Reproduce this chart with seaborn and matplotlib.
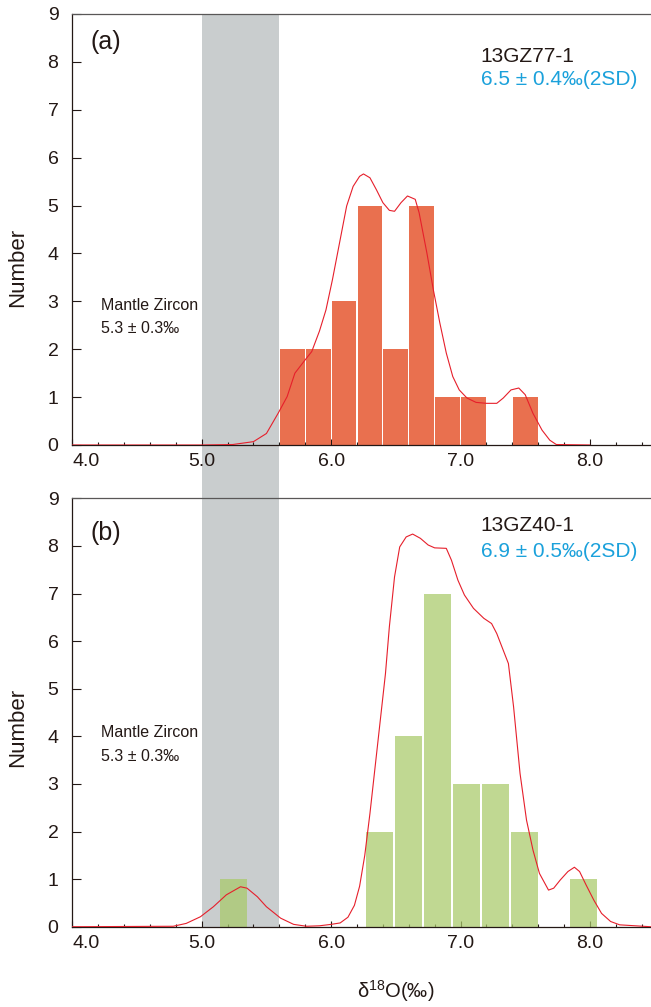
import numpy as np
import pandas as pd
import matplotlib
matplotlib.use('Agg')
import matplotlib.pyplot as plt
from matplotlib.ticker import MultipleLocator
import seaborn as sns

# -- (a) 13GZ77-1 : histogram (bin centres / counts) --
a_centers = [5.7, 5.9, 6.1, 6.3, 6.5, 6.7, 6.9, 7.1, 7.5]
a_counts = [2, 2, 3, 5, 2, 5, 1, 1, 1]

# -- (a) density curve --
a_curve_x = [4.0, 5.0, 5.24, 5.40, 5.50, 5.59, 5.66, 5.72, 5.80, 5.85, 5.91, 5.96,
             6.01, 6.07, 6.12, 6.17, 6.22, 6.25, 6.30, 6.35, 6.40, 6.45, 6.49, 6.54,
             6.59, 6.65, 6.68, 6.74, 6.79, 6.84, 6.89, 6.94, 6.99, 7.05, 7.12, 7.20,
             7.28, 7.33, 7.39, 7.45, 7.50, 7.56, 7.63, 7.69, 7.74, 8.0]
a_curve_y = [0, 0, 0.01, 0.07, 0.24, 0.66, 1.01, 1.50, 1.78, 1.95, 2.38, 2.82,
             3.45, 4.29, 4.99, 5.40, 5.61, 5.66, 5.58, 5.33, 5.06, 4.90, 4.88, 5.06,
             5.20, 5.13, 4.85, 4.01, 3.24, 2.55, 1.92, 1.43, 1.15, 0.98, 0.89, 0.87,
             0.87, 0.98, 1.15, 1.19, 1.05, 0.66, 0.31, 0.10, 0.01, 0.0]

# -- (b) 13GZ40-1 : histogram (bin centres / counts) --
b_centers = [5.2475, 6.3725, 6.5975, 6.8225, 7.0475, 7.2725, 7.4975, 7.9475]
b_counts = [1, 2, 4, 7, 3, 3, 2, 1]

# -- (b) density curve --
b_curve_x = [4.0, 4.78, 4.88, 4.99, 5.09, 5.19, 5.30, 5.35, 5.43, 5.50, 5.61, 5.71,
             5.81, 5.91, 6.00, 6.07, 6.13, 6.18, 6.22, 6.26, 6.30, 6.34, 6.38, 6.42,
             6.45, 6.49, 6.53, 6.58, 6.63, 6.69, 6.75, 6.80, 6.89, 6.93, 6.98, 7.03,
             7.10, 7.18, 7.24, 7.28, 7.33, 7.37, 7.41, 7.46, 7.51, 7.56, 7.61, 7.68,
             7.72, 7.77, 7.83, 7.88, 7.92, 7.97, 8.03, 8.09, 8.16, 8.23, 8.47]
b_curve_y = [0, 0.01, 0.07, 0.21, 0.42, 0.67, 0.84, 0.81, 0.63, 0.42, 0.18, 0.05,
             0.01, 0.02, 0.05, 0.08, 0.20, 0.45, 0.85, 1.50, 2.38, 3.36, 4.34, 5.32,
             6.30, 7.35, 7.98, 8.19, 8.25, 8.16, 8.02, 7.96, 7.95, 7.70, 7.28, 6.97,
             6.69, 6.48, 6.37, 6.16, 5.81, 5.53, 4.62, 3.22, 2.24, 1.61, 1.12, 0.77,
             0.81, 0.98, 1.16, 1.25, 1.16, 0.88, 0.56, 0.28, 0.11, 0.04, 0.0]

# -- mantle zircon range (5.3 +/- 0.3) --
mantle_lo, mantle_hi = 5.0, 5.6

x_ticks = [4.0, 5.0, 6.0, 7.0, 8.0]
x_tick_labels = ['4.0', '5.0', '6.0', '7.0', '8.0']
y_ticks = [0, 1, 2, 3, 4, 5, 6, 7, 8, 9]

sns.set_style('ticks')
plt.rcParams['font.family'] = ['Liberation Sans', 'DejaVu Sans']
plt.rcParams['mathtext.default'] = 'regular'

ink = '#231815'
blue = '#1ba1db'
red = '#e61f2b'
band = '#c9cdce'

fig = plt.figure(figsize=(6.51, 10.07), dpi=100)
ax_a = fig.add_axes([0.1111, 0.5581, 0.8889, 0.4280])
ax_b = fig.add_axes([0.1111, 0.0797, 0.8889, 0.4254])


def draw_panel(ax, centers, counts, nbins, brange, color, alpha, shrink, cx, cy, band_ymin):
    ax.axvspan(mantle_lo, mantle_hi, ymin=band_ymin, ymax=1, color=band, lw=0,
               zorder=0, clip_on=False)
    df = pd.DataFrame({'d18O': centers, 'n': counts})
    sns.histplot(data=df, x='d18O', weights='n', bins=nbins, binrange=brange,
                 color=color, alpha=alpha, edgecolor='none', linewidth=0,
                 shrink=shrink, ax=ax, zorder=2)
    sns.lineplot(x=cx, y=cy, color=red, linewidth=0.8, ax=ax, zorder=3)

    ax.set_facecolor('none')
    ax.set_xlim(4.0, 8.472)
    ax.set_ylim(0, 9)
    ax.set_yticks(y_ticks)
    ax.set_xticks(x_ticks)
    lbls = ax.set_xticklabels(x_tick_labels)
    lbls[0].set_horizontalalignment('left')
    ax.xaxis.set_minor_locator(MultipleLocator(0.2))
    ax.tick_params(axis='both', which='both', direction='in', colors=ink,
                   labelsize=14, width=0.8)
    ax.tick_params(axis='y', length=6.5, pad=10)
    ax.tick_params(axis='x', which='major', length=4.5, pad=6)
    ax.tick_params(axis='x', which='minor', length=2.2)
    ax.spines['right'].set_visible(False)
    for s in ['left', 'bottom']:
        ax.spines[s].set_color(ink)
        ax.spines[s].set_linewidth(0.9)
    ax.spines['top'].set_color('#595757')
    ax.spines['top'].set_linewidth(0.9)
    ax.set_xlabel('')
    ax.set_ylabel('Number', fontsize=16, color=ink)


# panel (a): band runs down through the gap to the top of panel (b)
draw_panel(ax_a, a_centers, a_counts, 10, (5.6, 7.6), '#e9704f', 1.0, 0.96,
           a_curve_x, a_curve_y, -0.1237)
draw_panel(ax_b, b_centers, b_counts, 13, (5.135, 8.06), '#a9ca6a', 0.73, 0.93,
           b_curve_x, b_curve_y, 0)

ax_a.yaxis.set_label_coords(-0.076, 0.413)
ax_b.yaxis.set_label_coords(-0.076, 0.465)

# -- annotations --
ax_a.text(4.137, 8.27, '(a)', fontsize=18, color=ink, va='baseline')
ax_a.text(7.151, 7.99, '13GZ77-1', fontsize=15, color=ink, va='baseline')
ax_a.text(7.16, 7.51, '6.5 ± 0.4‰(2SD)', fontsize=15, color=blue, va='baseline')
ax_a.text(4.222, 2.82, 'Mantle Zircon', fontsize=11.5, color=ink, va='baseline')
ax_a.text(4.222, 2.34, '5.3 ± 0.3‰', fontsize=11.5, color=ink, va='baseline')

ax_b.text(4.137, 8.12, '(b)', fontsize=18, color=ink, va='baseline')
ax_b.text(7.151, 8.31, '13GZ40-1', fontsize=15, color=ink, va='baseline')
ax_b.text(7.16, 7.76, '6.9 ± 0.5‰(2SD)', fontsize=15, color=blue, va='baseline')
ax_b.text(4.222, 3.99, 'Mantle Zircon', fontsize=11.5, color=ink, va='baseline')
ax_b.text(4.222, 3.49, '5.3 ± 0.3‰', fontsize=11.5, color=ink, va='baseline')

ax_b.set_xlabel(r'δ$^{18}$O(‰)', fontsize=14.5, color=ink)
ax_b.xaxis.set_label_coords(0.559, -0.12)

fig.savefig('out.png', dpi=100, facecolor='white')
